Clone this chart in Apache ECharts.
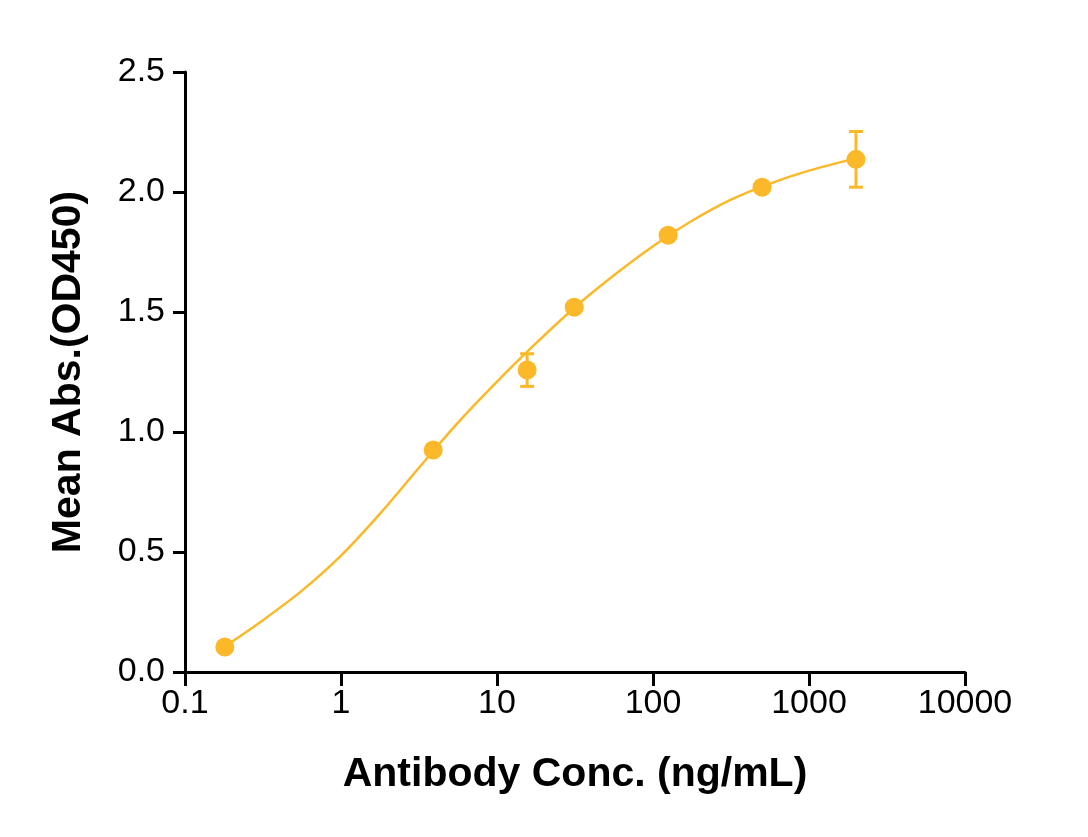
<!DOCTYPE html>
<html>
<head>
<meta charset="utf-8">
<script src="https://cdn.jsdelivr.net/npm/echarts@6/dist/echarts.min.js"></script>
<style>
  html, body { margin: 0; padding: 0; background: #fff; }
  #chart { width: 1088px; height: 837px; }
</style>
</head>
<body>
<div id="chart"></div>
<script>
// measured points (mean +/- SD)
const conc = [0.18, 3.9, 15.6, 31.25, 125, 500, 2000];
const meanAbs = [0.104, 0.925, 1.258, 1.52, 1.82, 2.02, 2.136];
const sdAbs = [0, 0, 0.068, 0, 0, 0, 0.116];

// fitted curve, every quarter decade
const curveX = [0.178, 0.316, 0.562, 1, 1.78, 3.16, 5.62, 10, 17.8, 31.6, 56.2, 100, 178, 316, 562, 1000, 2000];
const curveY = [0.104, 0.216, 0.339, 0.485, 0.660, 0.851, 1.039, 1.210, 1.370, 1.520, 1.653, 1.774, 1.880, 1.968, 2.035, 2.089, 2.140];

const yTicks = [0, 0.5, 1.0, 1.5, 2.0, 2.5];

const color = '#FBB829';
const font = '"Liberation Sans", Arial, sans-serif';

const chart = echarts.init(document.getElementById('chart'));

const pointData = conc.map((c, i) => [c, meanAbs[i]]);
const errData = conc.map((c, i) => [c, meanAbs[i] - sdAbs[i], meanAbs[i] + sdAbs[i]]);
const curveData = curveX.map((c, i) => [c, curveY[i]]);

const option = {
  animation: false,
  grid: { left: 185, right: 123, top: 72, bottom: 165 },
  xAxis: {
    type: 'log',
    logBase: 10,
    min: 0.1,
    max: 10000,
    name: 'Antibody Conc. (ng/mL)',
    nameLocation: 'middle',
    nameGap: 82,
    nameTextStyle: { fontFamily: font, fontSize: 41, fontWeight: 'bold', color: '#000' },
    axisLine: { lineStyle: { color: '#000', width: 3 } },
    axisTick: { length: 14, lineStyle: { color: '#000', width: 3 } },
    minorTick: { show: false },
    splitLine: { show: false },
    axisLabel: {
      fontFamily: font, fontSize: 34, color: '#000', margin: 15,
      formatter: v => String(+v.toPrecision(6))
    }
  },
  yAxis: {
    type: 'value',
    min: 0,
    max: 2.5,
    interval: 0.5,
    name: 'Mean Abs.(OD450)',
    nameLocation: 'middle',
    nameGap: 96,
    nameTextStyle: { fontFamily: font, fontSize: 41, fontWeight: 'bold', color: '#000' },
    axisLine: { show: true, lineStyle: { color: '#000', width: 3 } },
    axisTick: { show: true, length: 12, lineStyle: { color: '#000', width: 3 } },
    splitLine: { show: false },
    axisLabel: {
      fontFamily: font, fontSize: 34, color: '#000', margin: 20,
      formatter: v => {
        const t = yTicks.find(k => Math.abs(k - v) < 1e-9);
        return (t !== undefined ? t : v).toFixed(1);
      }
    }
  },
  series: [
    {
      type: 'line',
      data: curveData,
      smooth: 0.3,
      showSymbol: false,
      lineStyle: { color: color, width: 2.5 },
      z: 2
    },
    {
      type: 'custom',
      data: errData,
      renderItem: (params, api) => {
        const lo = api.coord([api.value(0), api.value(1)]);
        const hi = api.coord([api.value(0), api.value(2)]);
        if (Math.abs(hi[1] - lo[1]) < 1) return null;
        const w = 7;
        const style = { stroke: color, lineWidth: 3 };
        return {
          type: 'group',
          children: [
            { type: 'line', shape: { x1: lo[0], y1: lo[1], x2: hi[0], y2: hi[1] }, style },
            { type: 'line', shape: { x1: lo[0] - w, y1: lo[1], x2: lo[0] + w, y2: lo[1] }, style },
            { type: 'line', shape: { x1: hi[0] - w, y1: hi[1], x2: hi[0] + w, y2: hi[1] }, style }
          ]
        };
      },
      z: 3
    },
    {
      type: 'scatter',
      data: pointData,
      symbol: 'circle',
      symbolSize: 19,
      itemStyle: { color: color, opacity: 1 },
      z: 4
    }
  ]
};

chart.setOption(option);
</script>
</body>
</html>
